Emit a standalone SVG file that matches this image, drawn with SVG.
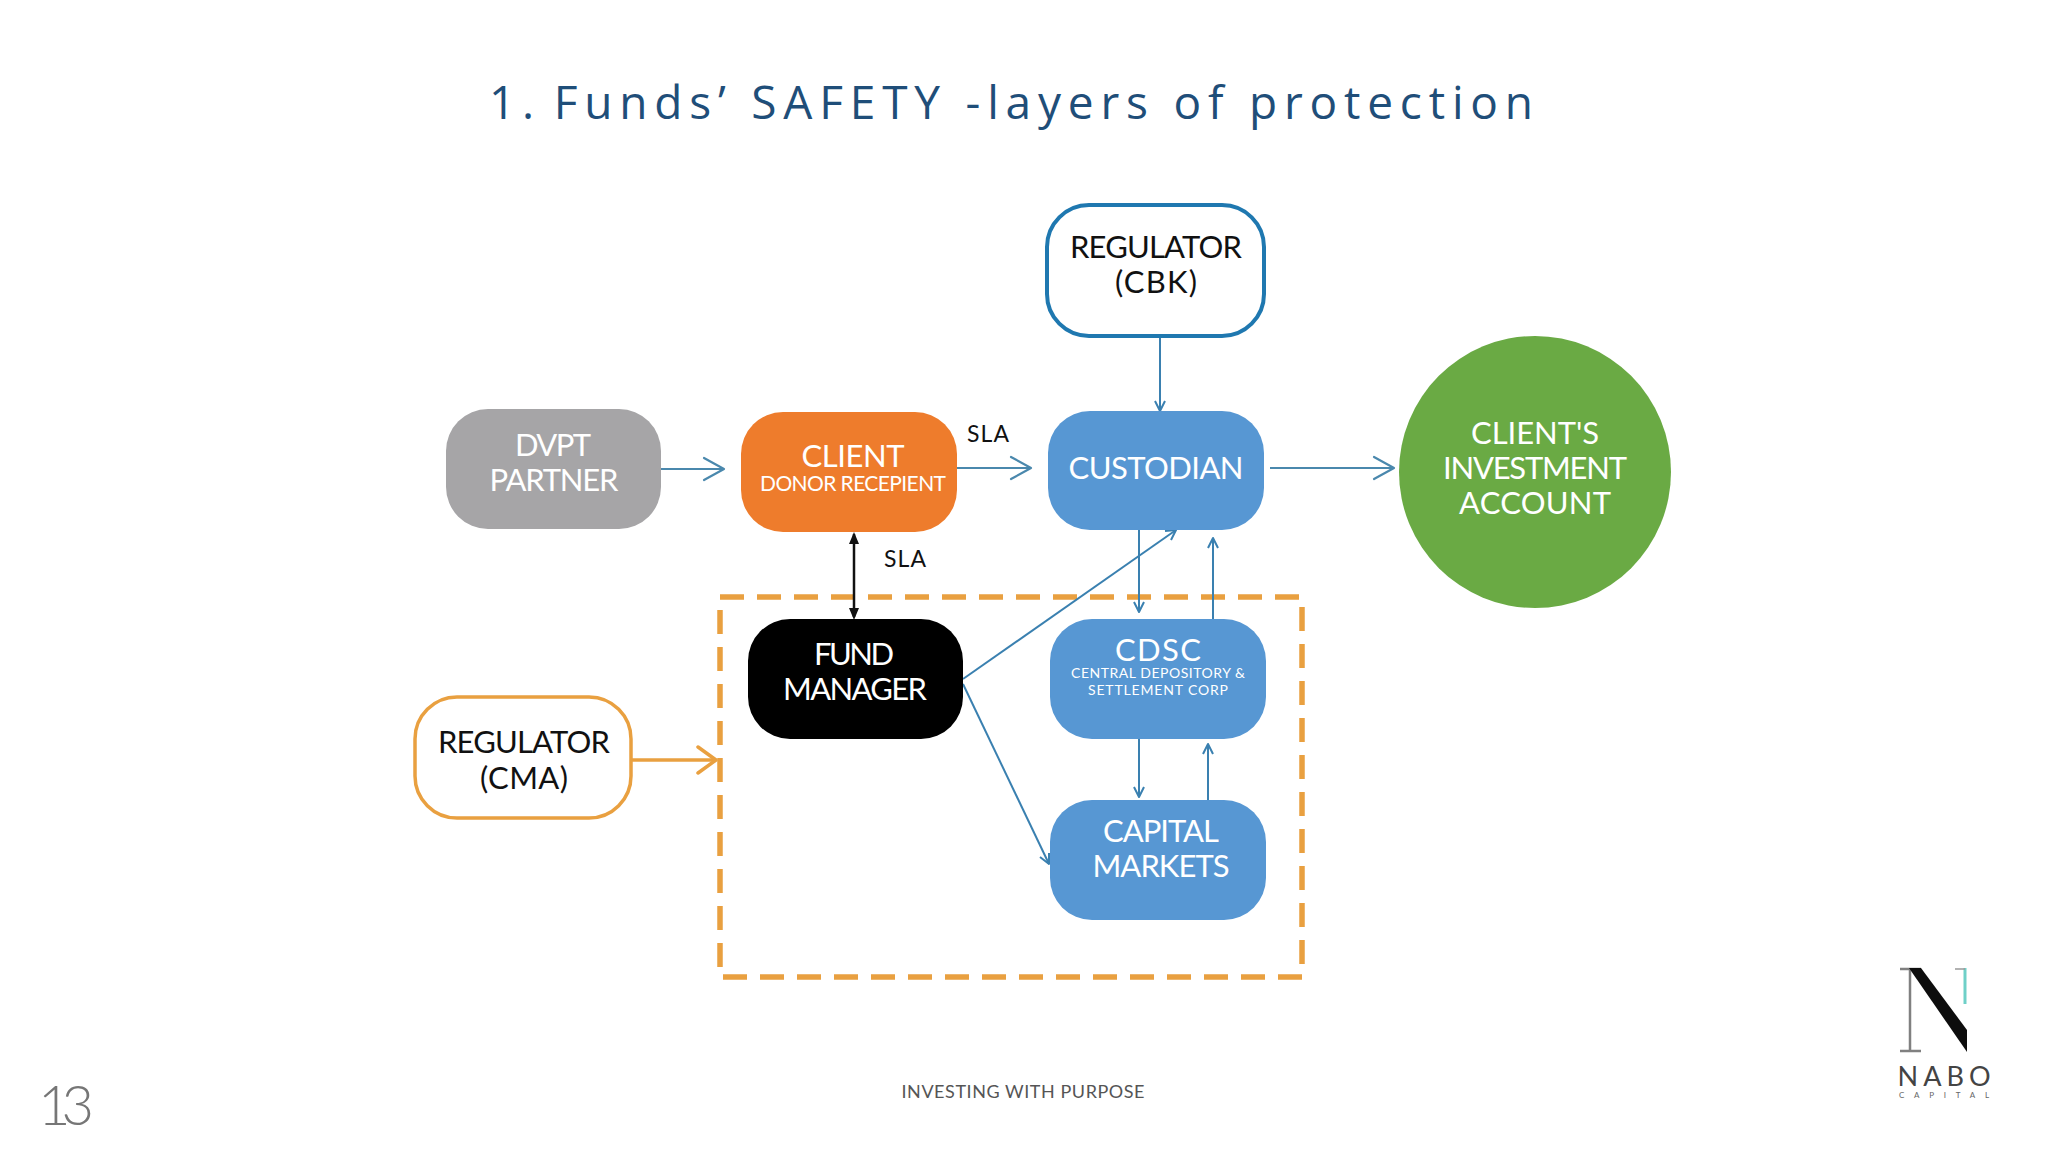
<svg xmlns="http://www.w3.org/2000/svg" width="2048" height="1152" viewBox="0 0 2048 1152">
<style>
.l{font-family:"Lato","Liberation Sans",sans-serif;text-anchor:middle;font-size:31px;fill:#fff}
.k{fill:#111}
.s{font-size:21px}
.c{fill:none;stroke:#4a88ad;stroke-width:2.2}
.o{fill:none;stroke:#4a88ad;stroke-width:2.2;stroke-linecap:round;stroke-linejoin:round}
.t{fill:none;stroke:#3a80b0;stroke-width:2}
.h{fill:none;stroke:#3a80b0;stroke-width:2;stroke-linejoin:round}
</style>
<rect width="2048" height="1152" fill="#fff"/>
<text id="title" x="1011" y="119" font-family="'Open Sans','Noto Sans',sans-serif" font-size="46" fill="#1f4e79" text-anchor="middle" textLength="1044">1.<tspan dx="-6"> Funds’ SAFETY -layers of protection</tspan></text>
<g id="connectors">
<rect id="dashed-zone" x="720" y="597" width="582" height="380" fill="none" stroke="#e9a040" stroke-width="5.5" stroke-dasharray="24 13"/>
<path class="c" d="M661 469H722"/><path class="o" d="M704 458L724 469L704 480"/>
<path class="c" d="M957 468H1030"/><path class="o" d="M1011 457L1031 468L1011 479"/>
<path class="c" d="M1270 468H1392"/><path class="o" d="M1374 457L1394 468L1374 479"/>
<path class="t" d="M1160 336V411"/><path class="h" d="M1155 401L1160 411L1165 401"/>
<path d="M854 534V617" stroke="#111" stroke-width="2.5" fill="none"/><path d="M854 532L849 544H859ZM854 620L849 608H859Z" fill="#111"/>
<path class="t" d="M1139 530V612"/><path class="h" d="M1134 602L1139 612L1144 602"/>
<path class="t" d="M1213 619V538"/><path class="h" d="M1208 548L1213 538L1218 548"/>
<path class="t" d="M1139 739V797"/><path class="h" d="M1134 787L1139 797L1144 787"/>
<path class="t" d="M1208 800V744"/><path class="h" d="M1203 754L1208 744L1213 754"/>
<path class="t" d="M963 679L1176 530"/><path class="h" d="M1165 531L1176 530L1171 540"/>
<path class="t" d="M963 684L1049 864"/><path class="h" d="M1040 857L1049 864L1049 853"/>
<path d="M631 760H714" fill="none" stroke="#e9a040" stroke-width="3.5"/><path d="M698 747L716 760L698 773" fill="none" stroke="#e9a040" stroke-width="3.5" stroke-linecap="round" stroke-linejoin="round"/>
</g>
<g id="regulator-cbk"><rect x="1047" y="205" width="217" height="131" rx="42" fill="#fff" stroke="#1f78b0" stroke-width="4"/>
<text class="l k" x="1156" y="258" textLength="172">REGULATOR</text><text class="l k" x="1156" y="293" textLength="82">(CBK)</text></g>
<g id="dvpt-partner"><rect x="446" y="409" width="215" height="120" rx="42" fill="#a6a5a7"/>
<text class="l" x="553" y="456" textLength="76">DVPT</text><text class="l" x="554" y="491" textLength="129">PARTNER</text></g>
<g id="client"><rect x="741" y="412" width="216" height="120" rx="42" fill="#ee7c2c"/>
<text class="l" x="853" y="467" textLength="103">CLIENT</text><text class="l s" x="853" y="491" textLength="186">DONOR RECEPIENT</text></g>
<g id="custodian"><rect x="1048" y="411" width="216" height="119" rx="42" fill="#5797d3"/>
<text class="l" x="1156" y="479" textLength="175">CUSTODIAN</text></g>
<g id="investment-account"><circle cx="1535" cy="472" r="136" fill="#6aaa44"/>
<text class="l" x="1535" y="444" textLength="128">CLIENT'S</text><text class="l" x="1535" y="479" textLength="184">INVESTMENT</text><text class="l" x="1535" y="514" textLength="152">ACCOUNT</text></g>
<g id="fund-manager"><rect x="748" y="619" width="215" height="120" rx="42" fill="#000"/>
<text class="l" x="854" y="665" textLength="80">FUND</text><text class="l" x="855" y="700" textLength="144">MANAGER</text></g>
<g id="cdsc"><rect x="1050" y="619" width="216" height="120" rx="42" fill="#5797d3"/>
<text class="l" x="1158" y="661" textLength="86">CDSC</text><text class="l" style="font-size:14px" x="1158" y="678" textLength="174">CENTRAL DEPOSITORY &amp;</text><text class="l" style="font-size:14px" x="1158" y="695" textLength="140">SETTLEMENT CORP</text></g>
<g id="capital-markets"><rect x="1050" y="800" width="216" height="120" rx="42" fill="#5797d3"/>
<text class="l" x="1161" y="842" textLength="116">CAPITAL</text><text class="l" x="1161" y="877" textLength="137">MARKETS</text></g>
<g id="regulator-cma"><rect x="415" y="697" width="216" height="121" rx="42" fill="#fff" stroke="#e9a040" stroke-width="3.5"/>
<text class="l k" x="524" y="753" textLength="172">REGULATOR</text><text class="l k" x="524" y="789" textLength="88">(CMA)</text></g>
<text class="l k" style="font-size:23px" x="988" y="442" textLength="42">SLA</text>
<text class="l k" style="font-size:23px" x="905" y="567" textLength="42">SLA</text>
<text x="1023" y="1098" font-family="Lato,'Liberation Sans',sans-serif" font-size="18" fill="#555" text-anchor="middle" textLength="243">INVESTING WITH PURPOSE</text>
<text x="38" y="1125" font-family="Lato,'Liberation Sans',sans-serif" font-size="56" font-weight="300" fill="#767676" textLength="56">13</text>
<g id="logo">
<path d="M1900 969H1921M1910 969V1051M1900 1051H1921" fill="none" stroke="#808080" stroke-width="2.5"/>
<path d="M1909 968H1921L1967 1030V1052Z" fill="#0d0d0d"/>
<path d="M1965 968V1004" stroke="#6fd0c8" stroke-width="3" fill="none"/><path d="M1955 969H1965" stroke="#999" stroke-width="1.5"/>
<text x="1944" y="1086" font-family="Lato,'Liberation Sans',sans-serif" font-size="27" fill="#444" text-anchor="middle" textLength="93">NABO</text>
<text x="1944" y="1098" font-family="Lato,'Liberation Sans',sans-serif" font-size="8" fill="#666" text-anchor="middle" textLength="90">CAPITAL</text>
</g>
</svg>
